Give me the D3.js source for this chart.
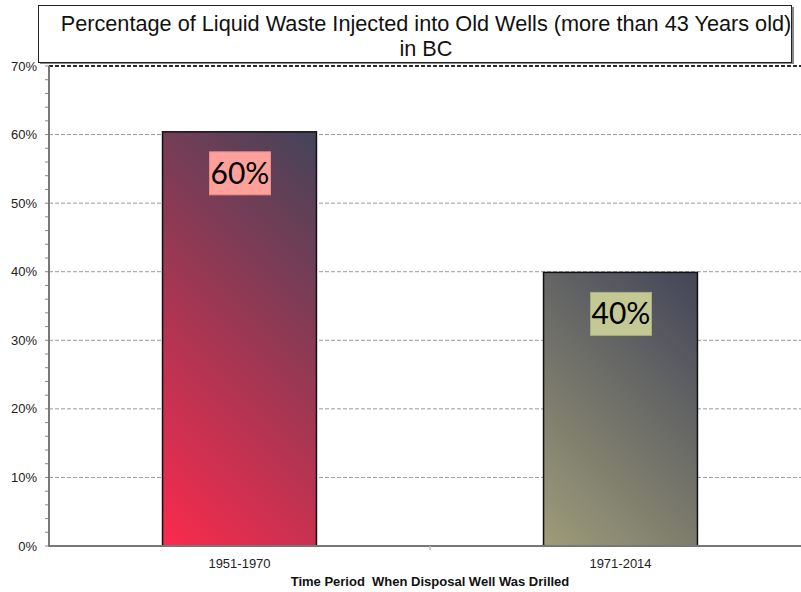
<!DOCTYPE html>
<html>
<head>
<meta charset="utf-8">
<script src="https://cdn.jsdelivr.net/npm/d3@7"></script>
<style>
  body { margin: 0; background: #fff; }
  svg { display: block; }
  .tick-label { font-family: "Liberation Sans", Arial, sans-serif; font-size: 13px; fill: #222; }
</style>
</head>
<body>
<div id="chart"></div>
<script>
const WIDTH  = 801;
const HEIGHT = 592;

const PLOT_LEFT   = 49;
const PLOT_RIGHT  = 811;
const PLOT_TOP    = 66;
const PLOT_BOTTOM = 546;

const TITLE_LINES = ["Percentage of Liquid Waste Injected into Old Wells (more than 43 Years old)", "in BC"];
const X_TITLE = "Time Period  When Disposal Well Was Drilled";

const periods   = ["1951-1970", "1971-2014"];
const shares    = [60.4, 39.9];
const labels    = ["60%", "40%"];
const yTicks    = [0, 10, 20, 30, 40, 50, 60, 70];

// colours per bar: bottom-left, top-right, label box fill, label box edge
const barLow    = ["#fb2a4d", "#9e9c79"];
const barHigh   = ["#434459", "#434559"];
const boxFill   = ["#ffa09b", "#c3c894"];
const boxEdge   = ["#e48d88", "#a9ae7c"];

var svg = d3.select("#chart")
            .append("svg")
            .attr("width", WIDTH)
            .attr("height", HEIGHT);

var xScale = d3.scaleBand()
               .domain(periods)
               .range([PLOT_LEFT, PLOT_RIGHT]);
var yScale = d3.scaleLinear()
               .domain([0, 70])
               .range([PLOT_BOTTOM, PLOT_TOP]);

var barW = xScale.bandwidth() * 0.404;
var barX = (i) => xScale(periods[i]) + xScale.bandwidth() / 2 - barW / 2;

// 45 degree gradients, bottom-left corner to top-right corner
var defs = svg.append("defs");
shares.forEach(function(v, i) {
    var x0 = barX(i), y0 = PLOT_BOTTOM;
    var h = PLOT_BOTTOM - yScale(v);
    var half = (barW + h) / 2;
    var g = defs.append("linearGradient")
                .attr("id", "grad" + i)
                .attr("gradientUnits", "userSpaceOnUse")
                .attr("x1", x0).attr("y1", y0)
                .attr("x2", x0 + half).attr("y2", y0 - half);
    g.append("stop").attr("offset", "0%").attr("stop-color", barLow[i]);
    g.append("stop").attr("offset", "100%").attr("stop-color", barHigh[i]);
});

// gridlines
svg.selectAll(".grid")
   .data(yTicks.filter(t => t > 0))
   .enter()
   .append("line")
   .attr("x1", PLOT_LEFT)
   .attr("x2", PLOT_RIGHT)
   .attr("y1", d => yScale(d))
   .attr("y2", d => yScale(d))
   .attr("stroke", d => d === 70 ? "#2a2a2a" : "#9a9a9a")
   .attr("stroke-width", d => d === 70 ? 2 : 1)
   .attr("stroke-dasharray", "4,2");

// minor ticks every 2%
var minor = d3.range(0, 71, 2);
svg.selectAll(".ytick")
   .data(minor)
   .enter()
   .append("line")
   .attr("x1", PLOT_LEFT - 4)
   .attr("x2", PLOT_LEFT)
   .attr("y1", d => yScale(d))
   .attr("y2", d => yScale(d))
   .attr("stroke", "#888")
   .attr("stroke-width", 1);

svg.selectAll(".ylab")
   .data(yTicks)
   .enter()
   .append("text")
   .attr("class", "tick-label")
   .attr("x", PLOT_LEFT - 12)
   .attr("y", d => yScale(d) + 4.5)
   .attr("text-anchor", "end")
   .text(d => d + "%");

// bars
svg.selectAll(".bar")
   .data(shares)
   .enter()
   .append("rect")
   .attr("x", (d, i) => barX(i))
   .attr("y", d => yScale(d))
   .attr("width", barW)
   .attr("height", d => PLOT_BOTTOM - yScale(d))
   .attr("fill", (d, i) => "url(#grad" + i + ")")
   .attr("stroke", "#111")
   .attr("stroke-width", 1.5);

// axes lines
svg.append("line")
   .attr("x1", PLOT_LEFT).attr("x2", PLOT_LEFT)
   .attr("y1", PLOT_TOP).attr("y2", PLOT_BOTTOM + 1)
   .attr("stroke", "#777").attr("stroke-width", 2);
svg.append("line")
   .attr("x1", PLOT_LEFT).attr("x2", PLOT_RIGHT)
   .attr("y1", PLOT_BOTTOM).attr("y2", PLOT_BOTTOM)
   .attr("stroke", "#777").attr("stroke-width", 2);

// category separator on x axis
svg.append("line")
   .attr("x1", xScale(periods[1])).attr("x2", xScale(periods[1]))
   .attr("y1", PLOT_BOTTOM).attr("y2", PLOT_BOTTOM + 4)
   .attr("stroke", "#bbb").attr("stroke-width", 1.5);

svg.selectAll(".xlab")
   .data(periods)
   .enter()
   .append("text")
   .attr("class", "tick-label")
   .attr("x", d => xScale(d) + xScale.bandwidth() / 2)
   .attr("y", PLOT_BOTTOM + 22)
   .attr("text-anchor", "middle")
   .text(d => d);

svg.append("text")
   .attr("x", xScale(periods[1]))
   .attr("y", 586)
   .attr("text-anchor", "middle")
   .style("font-family", "'Liberation Sans', Arial, sans-serif")
   .style("font-size", "13px")
   .style("font-weight", "bold")
   .style("white-space", "pre")
   .attr("fill", "#111")
   .text(X_TITLE);

// value labels
var boxW = 61, boxH = 43;
shares.forEach(function(v, i) {
    var cx = xScale(periods[i]) + xScale.bandwidth() / 2 + 0.5;
    var top = yScale(v) + 20;
    svg.append("rect")
       .attr("x", cx - boxW / 2)
       .attr("y", top)
       .attr("width", boxW)
       .attr("height", boxH)
       .attr("fill", boxFill[i])
       .attr("stroke", boxEdge[i])
       .attr("stroke-width", 1);
    svg.append("text")
       .attr("x", cx)
       .attr("y", top + 32)
       .attr("text-anchor", "middle")
       .style("font-family", "Lato, 'Noto Sans', sans-serif")
       .style("font-size", "30px")
       .attr("fill", "#000")
       .text(labels[i]);
});

// title box
svg.append("rect")
   .attr("x", 40).attr("y", 7)
   .attr("width", 754).attr("height", 57)
   .attr("fill", "#888");
svg.append("rect")
   .attr("x", 38.5).attr("y", 5.5)
   .attr("width", 753).attr("height", 57)
   .attr("fill", "#fff")
   .attr("stroke", "#222")
   .attr("stroke-width", 1);
svg.selectAll(".title")
   .data(TITLE_LINES)
   .enter()
   .append("text")
   .attr("x", 426)
   .attr("y", (d, i) => 31 + i * 25)
   .attr("text-anchor", "middle")
   .style("font-family", "'Liberation Sans', Arial, sans-serif")
   .style("font-size", "21.7px")
   .attr("fill", "#111")
   .text(d => d);
</script>
</body>
</html>
